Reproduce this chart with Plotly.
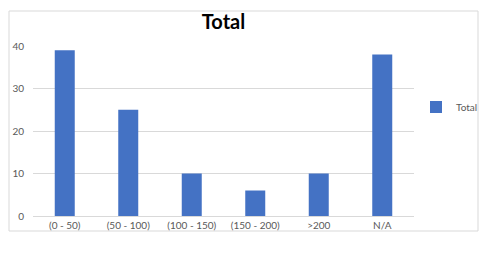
import plotly.graph_objects as go

categories = ["(0 - 50)", "(50 - 100)", "(100 - 150)", "(150 - 200)", ">200", "N/A"]
totals = [39, 25, 10, 6, 10, 38]
y_ticks = [0, 10, 20, 30, 40]

L, R, T, B = 33, 414, 46, 216
W, H = 492, 253
pw, ph = R - L, B - T

def px_x(x):
    return (x - L) / pw

def px_y(y):
    return (B - y) / ph

fig = go.Figure()
fig.add_trace(go.Bar(x=categories, y=totals, name="Total",
                     marker=dict(color="#4472C4", line=dict(width=0))))

fig.update_layout(
    width=W, height=H,
    margin=dict(l=L, r=W - R, t=T, b=H - B, pad=0, autoexpand=False),
    paper_bgcolor="white", plot_bgcolor="white",
    bargap=0.685,
    showlegend=True,
    font=dict(family="Lato, Open Sans, sans-serif", color="#595959", size=10),
    title=dict(text="<b>Total</b>", x=0.5, xref="paper", xanchor="center",
               y=1 - 22 / H, yref="container", yanchor="middle",
               font=dict(family="Lato, Open Sans, sans-serif", size=20, color="black")),
    legend=dict(x=px_x(416), y=px_y(107), xanchor="left", yanchor="middle",
                font=dict(size=10, color="#595959"), itemwidth=30,
                bgcolor="rgba(0,0,0,0)"),
    xaxis=dict(showgrid=False, showline=True, linecolor="#d9d9d9", linewidth=1,
               ticks="", tickfont=dict(size=10, color="#595959")),
    yaxis=dict(range=[0, 40], tickvals=y_ticks, showgrid=True, gridcolor="#d9d9d9",
               gridwidth=1, zeroline=False, showline=False, ticks="",
               ticklabelstandoff=8, tickfont=dict(size=10, color="#595959")),
    shapes=[dict(type="rect", xref="paper", yref="paper",
                 x0=px_x(9), x1=px_x(478), y0=px_y(231), y1=px_y(11),
                 line=dict(color="#d9d9d9", width=1), fillcolor="rgba(0,0,0,0)",
                 layer="below")],
)

fig.write_html("out.html")
